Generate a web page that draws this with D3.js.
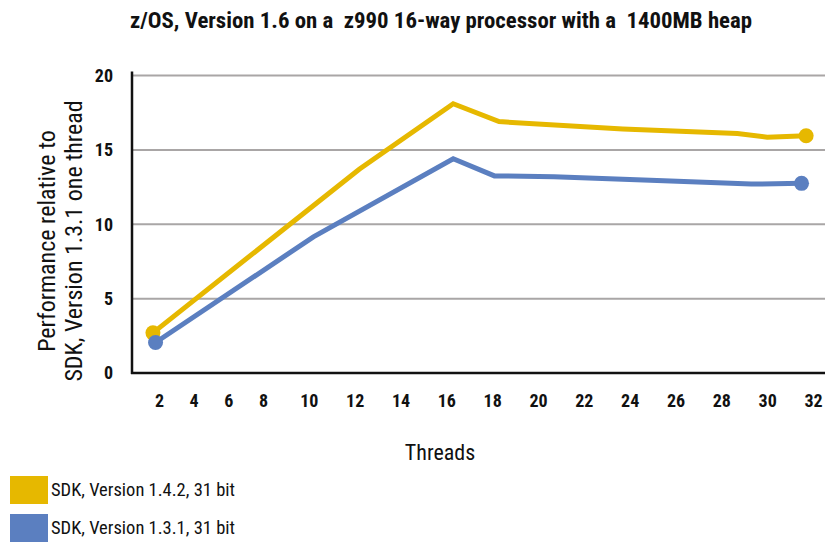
<!DOCTYPE html>
<html>
<head>
<meta charset="utf-8">
<script src="https://cdn.jsdelivr.net/npm/d3@7"></script>
<style>
  html, body { margin: 0; padding: 0; background: #fff; }
  svg text { font-family: "Liberation Sans Narrow", "Roboto Condensed", "Arial Narrow", sans-serif; white-space: pre; }
</style>
</head>
<body>
<svg id="chart" width="828" height="542"></svg>
<script>
// ---- data ----
const title = "z/OS, Version 1.6 on a  z990 16-way processor with a  1400MB heap";
const xTicks = [2, 4, 6, 8, 10, 12, 14, 16, 18, 20, 22, 24, 26, 28, 30, 32];
const yTicks = [0, 5, 10, 15, 20];
const seriesNames = ["SDK, Version 1.4.2, 31 bit", "SDK, Version 1.3.1, 31 bit"];
const seriesColors = ["#E6B800", "#5B7FC0"];
const threads142 = [1.65, 12.2, 16.3, 18.3, 23.7, 28.7, 30.0, 31.7];
const values142 = [2.7, 13.7, 18.1, 16.9, 16.4, 16.1, 15.85, 15.95];
const threads131 = [1.8, 10.2, 16.3, 18.1, 20.7, 24.9, 29.3, 31.5];
const values131 = [2.05, 9.15, 14.4, 13.25, 13.2, 12.95, 12.7, 12.75];

const svg = d3.select("#chart");
const plot = { left: 132, right: 825, top: 75.5, bottom: 373 };

// category-like axis: labels 2..8 closer together than 8..32
const x = d3.scaleLinear().domain([2, 8, 32]).range([159, 263, 813]);
const y = d3.scaleLinear().domain([0, 20]).range([plot.bottom, plot.top]);

// title
svg.append("text")
  .attr("x", 441).attr("y", 28)
  .attr("text-anchor", "middle")
  .attr("font-size", 22.8).attr("font-weight", "bold")
  .attr("fill", "#111")
  .text(title);

// gridlines
svg.append("g").selectAll("line")
  .data(yTicks.filter(d => d > 0))
  .join("line")
  .attr("x1", plot.left).attr("x2", plot.right)
  .attr("y1", d => y(d)).attr("y2", d => y(d))
  .attr("stroke", "#a9a6a6").attr("stroke-width", 2);

// y axis
const yAxis = svg.append("g")
  .attr("transform", `translate(${plot.left},0)`)
  .call(d3.axisLeft(y).tickValues(yTicks).tickSize(0).tickPadding(19));
yAxis.select(".domain").remove();
yAxis.selectAll("text")
  .attr("font-size", 18).attr("font-weight", "bold").attr("fill", "#111");
yAxis.attr("font-family", null);

// x axis
const xAxis = svg.append("g")
  .attr("transform", `translate(0,${plot.bottom})`)
  .call(d3.axisBottom(x).tickValues(xTicks).tickSize(0).tickPadding(21).tickFormat(d3.format("d")));
xAxis.select(".domain").remove();
xAxis.selectAll("text")
  .attr("font-size", 18).attr("font-weight", "bold").attr("fill", "#111");
xAxis.attr("font-family", null);

// axis lines
svg.append("line")
  .attr("x1", plot.left).attr("x2", plot.left)
  .attr("y1", plot.top - 4).attr("y2", plot.bottom + 1)
  .attr("stroke", "#111").attr("stroke-width", 2.5);
svg.append("line")
  .attr("x1", plot.left - 1).attr("x2", plot.right)
  .attr("y1", plot.bottom).attr("y2", plot.bottom)
  .attr("stroke", "#111").attr("stroke-width", 2.5);

// y axis title
const yt = svg.append("text")
  .attr("transform", "translate(55,241) rotate(-90)")
  .attr("text-anchor", "middle")
  .attr("font-size", 24).attr("fill", "#111");
yt.append("tspan").attr("x", 0).attr("dy", 0).text("Performance relative to");
yt.append("tspan").attr("x", 0).attr("dy", 27).text("SDK, Version 1.3.1 one thread");

// x axis title
svg.append("text")
  .attr("x", 440).attr("y", 460)
  .attr("text-anchor", "middle")
  .attr("font-size", 22).attr("fill", "#111")
  .text("Threads");

// lines
const series = [
  { threads: threads142, values: values142, color: seriesColors[0] },
  { threads: threads131, values: values131, color: seriesColors[1] }
];
const line = d3.line().x(d => x(d[0])).y(d => y(d[1]));
series.forEach(s => {
  const pts = s.threads.map((t, i) => [t, s.values[i]]);
  svg.append("path")
    .attr("d", line(pts))
    .attr("fill", "none")
    .attr("stroke", s.color)
    .attr("stroke-width", 5)
    .attr("stroke-linejoin", "miter");
  svg.append("g").selectAll("circle")
    .data([pts[0], pts[pts.length - 1]])
    .join("circle")
    .attr("cx", d => x(d[0])).attr("cy", d => y(d[1]))
    .attr("r", 7.5).attr("fill", s.color);
});

// legend
const leg = svg.append("g").selectAll("g")
  .data(seriesNames)
  .join("g")
  .attr("transform", (d, i) => `translate(10,${476 + i * 38})`);
leg.append("rect")
  .attr("width", 38).attr("height", 28)
  .attr("fill", (d, i) => seriesColors[i]);
leg.append("text")
  .attr("x", 41).attr("y", 14).attr("dy", "0.35em")
  .attr("font-size", 18.5).attr("fill", "#111")
  .text(d => d);
</script>
</body>
</html>
